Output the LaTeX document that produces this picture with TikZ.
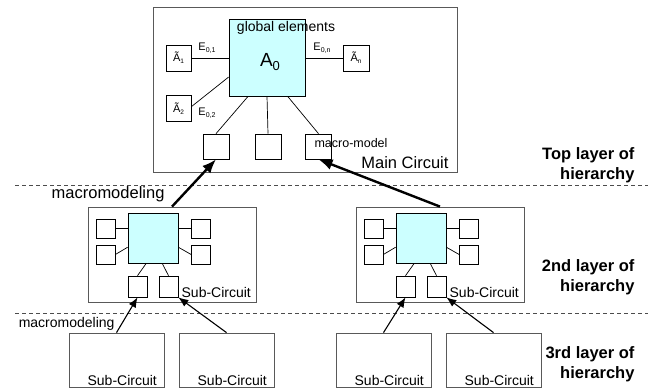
\documentclass[tikz,border=0pt]{standalone}
\usepackage{fontspec}
\setmainfont{Liberation Sans}
\usetikzlibrary{arrows.meta}

\definecolor{globfill}{RGB}{204,255,255}
\newcommand\tlbl[1]{{\fontsize{11}{11}\selectfont Ã\raisebox{-2pt}{\fontsize{6.5}{6.5}\selectfont #1}}}
\newcommand\elbl[1]{{\fontsize{11}{11}\selectfont E\raisebox{-2pt}{\fontsize{7}{7}\selectfont #1}}}

\begin{document}
\begin{tikzpicture}[x=1pt,y=-1pt,
  frame/.style={draw=black!65,line width=.8pt,inner sep=0pt},
  core/.style={draw,fill=globfill,line width=.8pt,inner sep=0pt},
  cellbox/.style={draw,line width=.7pt,inner sep=0pt},
  sep/.style={draw=black!70,line width=.9pt,dash pattern=on 4pt off 3pt},
  uparrow/.style={line width=2.4pt,-{Latex[length=14pt,width=11pt]}},
  feed/.style={line width=1.1pt,-{Latex[length=10pt,width=8pt]}},
  layer/.style={anchor=east,align=right,font=\bfseries\fontsize{16.5}{20}\selectfont}]
\useasboundingbox (0,0) rectangle (661,391);

% layer separators
\draw[sep] (15,185) -- (648,185);
\draw[sep] (15,313) -- (648,313);

% main circuit
\node[frame,minimum width=304pt,minimum height=165pt] (main) at (305,89.5) {};
\node[core,minimum width=76pt,minimum height=77pt] (a0) at (267,57.5) {};
\node[font=\fontsize{14}{16}\selectfont] (glob) at (286,28) {global elements};
\node[font=\fontsize{19}{20}\selectfont] (a0lbl) at (270,62) {A\raisebox{-4pt}{\fontsize{13}{13}\selectfont 0}};
\node[cellbox,minimum width=25pt,minimum height=26pt] (t1) at (178.5,58) {\tlbl{1}};
\node[cellbox,minimum width=25pt,minimum height=26pt] (t2) at (178.5,108.5) {\tlbl{2}};
\node[cellbox,minimum width=26pt,minimum height=26pt] (tn) at (356,58) {\tlbl{n}};
\foreach \i/\x in {1/216,2/268,3/318.5}
  \node[cellbox,minimum width=26pt,minimum height=25pt] (m\i) at (\x,146.5) {};
\draw[line width=.7pt] (t1.east) -- (t1.east -| a0.west);
\draw[line width=.7pt] (tn.west) -- (tn.west -| a0.east);
\draw[line width=.7pt] (t2.8) -- (a0.207);
\draw[line width=.7pt] (a0.244) -- (m1.north);
\draw[line width=.7pt] (a0.south) -- (m2.north);
\draw[line width=.7pt] (a0.298) -- (m3.north);
\node (e1) at (207,48) {\elbl{0,1}};
\node (e2) at (207,113) {\elbl{0,2}};
\node (en) at (322,48) {\elbl{0,n}};
\node[anchor=west,font=\fontsize{12.5}{14}\selectfont] (mmlbl) at (311,143) {macro-model};
\node[anchor=base east,font=\fontsize{16.5}{18}\selectfont] (mainlbl) at (452,168) {Main Circuit};

% second layer: two sub-circuits
\foreach \s/\n in {0/l,268/r}{
  \begin{scope}[shift={(\s,0)}]
    \node[frame,minimum width=168pt,minimum height=95pt] (sub\n) at (172,254.5) {};
    \node[core,minimum width=50pt,minimum height=50pt] (c\n) at (153,238) {};
    \node[cellbox,minimum size=19pt] (p\n1) at (105.5,228.5) {};
    \node[cellbox,minimum size=19pt] (p\n2) at (105.5,254.5) {};
    \node[cellbox,minimum size=19pt] (p\n3) at (201,228.5) {};
    \node[cellbox,minimum size=19pt] (p\n4) at (201,254.5) {};
    \node[cellbox,minimum width=19pt,minimum height=21pt] (q\n1) at (137.5,286.5) {};
    \node[cellbox,minimum width=19pt,minimum height=21pt] (q\n2) at (168.5,286.5) {};
    \draw[line width=.7pt] (p\n1.east) -- (p\n1.east -| c\n.west);
    \draw[line width=.7pt] (p\n3.west) -- (p\n3.west -| c\n.east);
    \draw[line width=.7pt] (p\n2.east) -- (c\n.200);
    \draw[line width=.7pt] (p\n4.west) -- (c\n.340);
    \draw[line width=.7pt] (q\n1.north) -- (c\n.255);
    \draw[line width=.7pt] (q\n2.north) -- (c\n.290);
    \path (sub\n.south east) ++(-2,-5) node[anchor=base east,font=\fontsize{14}{16}\selectfont] {Sub-Circuit};
  \end{scope}
}

% third layer
\foreach \i/\x in {1/116.5,2/226.5,3/383.5,4/493.5}{
  \node[frame,minimum width=95pt,minimum height=54pt] (ter\i) at (\x,360) {};
  \path (ter\i.south east) ++(-4,-2) node[anchor=base east,font=\fontsize{14}{16}\selectfont] {Sub-Circuit};
}

% macromodeling arrows
\draw[uparrow] (subl.north) -- (m1.south);
\draw[uparrow] (subr.north) -- (m3.south);
\node[anchor=east,font=\fontsize{16.5}{18}\selectfont] (mmtop) at (168,194) {macromodeling};
\draw[feed] (ter1.north) -- (ql1.south);
\draw[feed] (ter2.north) -- (ql2.south east);
\draw[feed] (ter3.north) -- (qr1.south);
\draw[feed] (ter4.north) -- (qr2.south east);
\node[anchor=east,font=\fontsize{14}{16}\selectfont] (mmlow) at (118,324) {macromodeling};

% layer captions
\node[layer] (lay1) at (638,165) {Top layer of\\hierarchy};
\node[layer] (lay2) at (638,277) {2nd layer of\\hierarchy};
\node[layer] (lay3) at (638,364) {3rd layer of\\hierarchy};
\end{tikzpicture}
\end{document}
